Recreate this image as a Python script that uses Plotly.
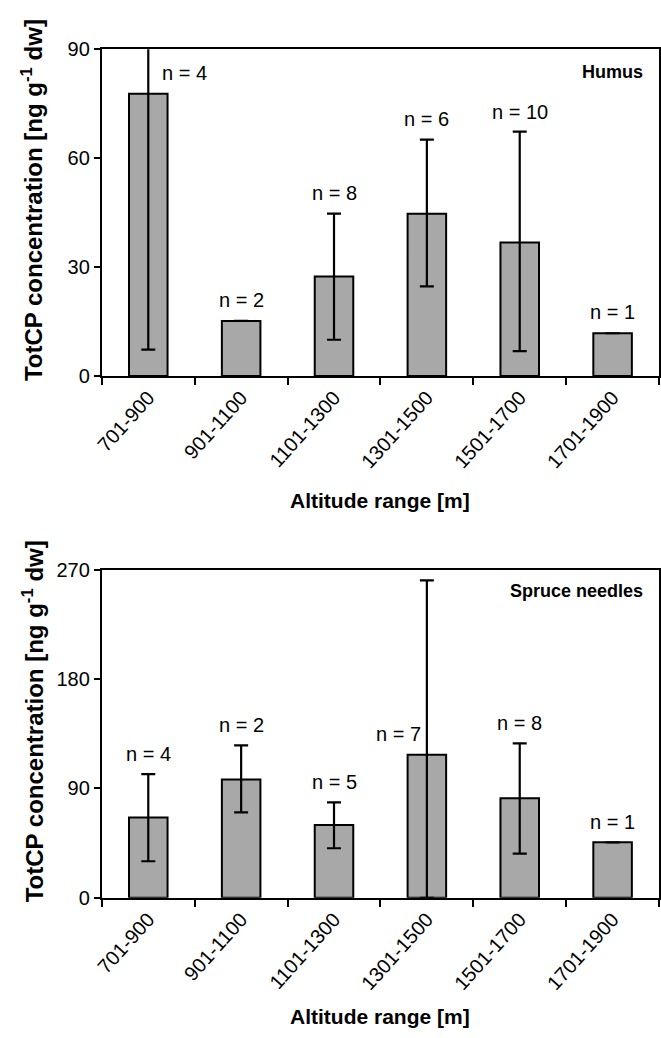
import plotly.graph_objects as go

# Altitude classes shared by both panels
altitude_ranges = ["701-900", "901-1100", "1101-1300", "1301-1500", "1501-1700", "1701-1900"]

# Humus: mean TotCP concentration, whisker lengths and sample counts
humus_mean = [77.7, 15.2, 27.4, 44.7, 36.8, 11.8]
humus_err_plus = [14.3, None, 17.3, 20.4, 30.5, None]
humus_err_minus = [70.4, None, 17.4, 20.0, 29.9, None]
humus_n = [4, 2, 8, 6, 10, 1]
humus_label_y = [83.5, 21.0, 50.5, 70.8, 72.8, 17.7]

# Spruce needles: mean TotCP concentration, whisker lengths and sample counts
spruce_mean = [66.2, 97.5, 59.9, 117.7, 81.9, 45.7]
spruce_err_plus = [35.6, 28.0, 18.6, 143.7, 45.2, None]
spruce_err_minus = [36.1, 27.1, 19.1, 117.7, 45.6, None]
spruce_n = [4, 2, 5, 7, 8, 1]
spruce_label_y = [118.8, 142.4, 95.4, 134.9, 143.7, 62.3]

W, H = 661, 1038
BAR_FILL = "#a8a8a8"
FAMILY = "Liberation Sans, Arial, sans-serif"
TICK_FONT = dict(family=FAMILY, size=20, color="black")
LABEL_FONT = dict(family=FAMILY, size=20, color="black")

fig = go.Figure()


def add_panel(xa, ya, mean, ep, em):
    fig.add_trace(go.Bar(
        x=altitude_ranges, y=mean, xaxis=xa, yaxis=ya,
        width=0.415,
        marker=dict(color=BAR_FILL, line=dict(color="black", width=2)),
        error_y=dict(type="data", symmetric=False, array=ep, arrayminus=em,
                     color="black", thickness=2.2, width=7),
        cliponaxis=False,
        showlegend=False,
    ))


add_panel("x", "y", humus_mean, humus_err_plus, humus_err_minus)
add_panel("x2", "y2", spruce_mean, spruce_err_plus, spruce_err_minus)

x_dom = [95 / W, 659 / W]
top_dom = [(H - 373) / H, (H - 39) / H]
bot_dom = [(H - 906) / H, (H - 571) / H]

xaxis_common = dict(
    domain=x_dom, type="category", tickson="boundaries",
    ticks="outside", ticklen=7, tickwidth=2, tickcolor="black",
    showline=True, linecolor="black", linewidth=2, mirror=True,
    tickangle=-48, tickfont=TICK_FONT, showgrid=False,
)
yaxis_common = dict(
    ticks="outside", ticklen=6, tickwidth=2, tickcolor="black",
    showline=True, linecolor="black", linewidth=2, mirror=True,
    tickfont=TICK_FONT, showgrid=False, zeroline=False,
)

fig.update_layout(
    width=W, height=H,
    margin=dict(l=0, r=0, t=0, b=0),
    paper_bgcolor="white", plot_bgcolor="white",
    xaxis=dict(anchor="y", **xaxis_common),
    xaxis2=dict(anchor="y2", **xaxis_common),
    yaxis=dict(anchor="x", domain=top_dom, range=[0, 90], tickvals=[0, 30, 60, 90], **yaxis_common),
    yaxis2=dict(anchor="x2", domain=bot_dom, range=[0, 270], tickvals=[0, 90, 180, 270], **yaxis_common),
)

annotations = []

# y-axis titles
ytitle = "<b>TotCP concentration [ng g<sup>-1</sup> dw]</b>"
for yc in (193.5, 726):
    annotations.append(dict(
        text=ytitle, textangle=-90, xref="paper", yref="paper",
        x=25 / W, y=(H - yc) / H, xanchor="center", yanchor="middle",
        showarrow=False, font=dict(family=FAMILY, size=24, color="black"),
    ))

# x-axis titles
for yc in (500, 1027):
    annotations.append(dict(
        text="<b>Altitude range [m]</b>", xref="paper", yref="paper",
        x=(x_dom[0] + x_dom[1]) / 2, y=(H - yc) / H, xanchor="center", yanchor="middle",
        showarrow=False, font=dict(family=FAMILY, size=21, color="black"),
    ))

# panel names
annotations.append(dict(text="<b>Humus</b>", xref="paper", yref="paper",
                        x=645 / W, y=(H - 62) / H, xanchor="right", yanchor="middle",
                        showarrow=False, font=dict(family=FAMILY, size=18, color="black")))
annotations.append(dict(text="<b>Spruce needles</b>", xref="paper", yref="paper",
                        x=645 / W, y=(H - 593) / H, xanchor="right", yanchor="middle",
                        showarrow=False, font=dict(family=FAMILY, size=18, color="black")))

# sample size labels
humus_shift = [36, 0, 0, 0, 0, 0]
spruce_shift = [0, 0, 0, -28, 0, 0]
for cat, n, ly, sh in zip(altitude_ranges, humus_n, humus_label_y, humus_shift):
    annotations.append(dict(text=f"n = {n}", x=cat, y=ly, xref="x", yref="y", xshift=sh,
                            showarrow=False, font=LABEL_FONT, yanchor="middle"))
for cat, n, ly, sh in zip(altitude_ranges, spruce_n, spruce_label_y, spruce_shift):
    annotations.append(dict(text=f"n = {n}", x=cat, y=ly, xref="x2", yref="y2", xshift=sh,
                            showarrow=False, font=LABEL_FONT, yanchor="middle"))

fig.update_layout(annotations=annotations)

fig.write_html("out.html")
